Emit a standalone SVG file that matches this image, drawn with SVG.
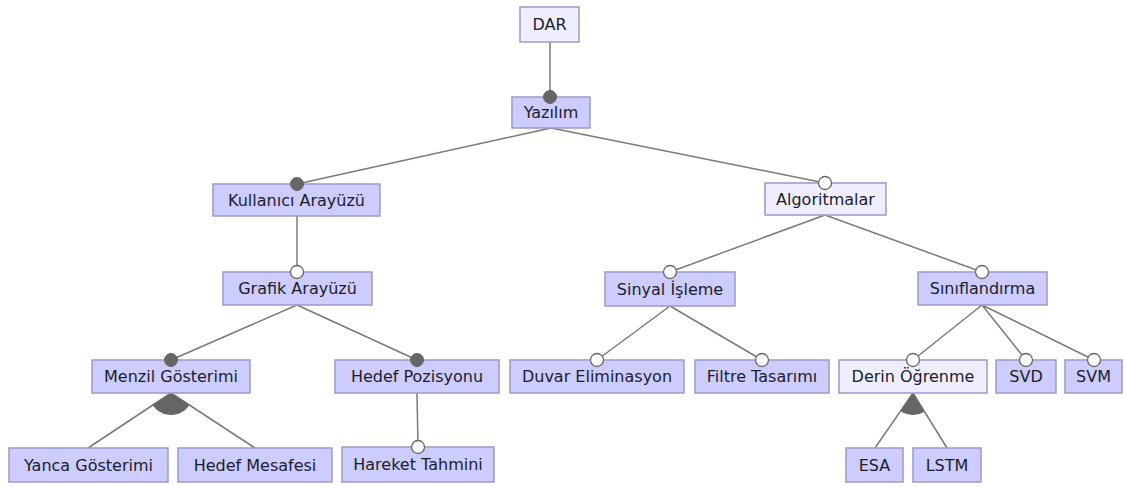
<svg xmlns="http://www.w3.org/2000/svg" width="1124" height="487" viewBox="0 0 1124 487">
  <style>
    .box { fill: #ccccff; stroke: #9b9bc8; stroke-width: 1.5; }
    .abs { fill: #eeeeff; stroke: #9b9bc8; stroke-width: 1.5; }
    .lbl { font-family: "DejaVu Sans", Verdana, sans-serif; font-size: 16px; fill: #1c1c2c; text-anchor: middle; dominant-baseline: central; }
    .edge { stroke: #7a7a7a; stroke-width: 1.5; fill: none; }
    .mand { fill: #666666; stroke: #666666; stroke-width: 1; }
    .opt { fill: #ffffff; stroke: #666666; stroke-width: 1.3; }
    .grp { fill: #666666; stroke: none; }
  </style>
  <rect width="1124" height="487" fill="#ffffff"/>

  <!-- connectors -->
  <g id="connectors">
    <line class="edge" x1="550" y1="42" x2="550" y2="97"/>
    <line class="edge" x1="551" y1="128" x2="297" y2="184"/>
    <line class="edge" x1="551" y1="128" x2="825" y2="183"/>
    <line class="edge" x1="297" y1="216" x2="297" y2="272"/>
    <line class="edge" x1="297" y1="305" x2="171" y2="360"/>
    <line class="edge" x1="297" y1="305" x2="417" y2="360"/>
    <line class="edge" x1="171" y1="393" x2="88" y2="448"/>
    <line class="edge" x1="171" y1="393" x2="255" y2="448"/>
    <line class="edge" x1="417" y1="393" x2="418" y2="447"/>
    <line class="edge" x1="825" y1="215" x2="670" y2="272"/>
    <line class="edge" x1="825" y1="215" x2="982" y2="272"/>
    <line class="edge" x1="670" y1="306" x2="597" y2="360"/>
    <line class="edge" x1="670" y1="306" x2="762" y2="360"/>
    <line class="edge" x1="982" y1="305" x2="913" y2="360"/>
    <line class="edge" x1="982" y1="305" x2="1026" y2="360"/>
    <line class="edge" x1="982" y1="305" x2="1094" y2="360"/>
    <line class="edge" x1="913" y1="393" x2="875" y2="448"/>
    <line class="edge" x1="913" y1="393" x2="947" y2="448"/>
    <!-- or-groups -->
    <path class="grp" d="M171,393 L152.7,405.1 A22,22 0 0 0 189.4,405.1 Z"/>
    <path class="grp" d="M913,393 L900.5,411.1 A22,22 0 0 0 924.6,411.7 Z"/>
  </g>

  <!-- nodes -->
  <g id="n-dar"><rect class="abs" x="520" y="7" width="59" height="35"/><text class="lbl" x="549.5" y="24.5">DAR</text></g>
  <g id="n-yazilim"><rect class="box" x="512" y="97" width="78" height="31"/><text class="lbl" x="551" y="112.5">Yazılım</text></g>
  <g id="n-kullanici"><rect class="box" x="213" y="184" width="167" height="32"/><text class="lbl" x="296.5" y="200">Kullanıcı Arayüzü</text></g>
  <g id="n-algoritmalar"><rect class="abs" x="765" y="183" width="121" height="32"/><text class="lbl" x="825.5" y="199">Algoritmalar</text></g>
  <g id="n-grafik"><rect class="box" x="223" y="272" width="149" height="33"/><text class="lbl" x="297.5" y="288.5">Grafik Arayüzü</text></g>
  <g id="n-sinyal"><rect class="box" x="605" y="272" width="130" height="34"/><text class="lbl" x="670" y="289">Sinyal İşleme</text></g>
  <g id="n-siniflandirma"><rect class="box" x="918" y="272" width="129" height="33"/><text class="lbl" x="982.5" y="288.5">Sınıflandırma</text></g>
  <g id="n-menzil"><rect class="box" x="92" y="360" width="158" height="33"/><text class="lbl" x="171" y="376.5">Menzil Gösterimi</text></g>
  <g id="n-hedefpoz"><rect class="box" x="335" y="360" width="164" height="33"/><text class="lbl" x="417" y="376.5">Hedef Pozisyonu</text></g>
  <g id="n-duvar"><rect class="box" x="510" y="360" width="174" height="33"/><text class="lbl" x="597" y="376.5">Duvar Eliminasyon</text></g>
  <g id="n-filtre"><rect class="box" x="695" y="360" width="134" height="33"/><text class="lbl" x="762" y="376.5">Filtre Tasarımı</text></g>
  <g id="n-derin"><rect class="abs" x="839" y="360" width="148" height="33"/><text class="lbl" x="913" y="376.5">Derin Öğrenme</text></g>
  <g id="n-svd"><rect class="box" x="996" y="360" width="60" height="33"/><text class="lbl" x="1026" y="376.5">SVD</text></g>
  <g id="n-svm"><rect class="box" x="1065" y="360" width="57" height="33"/><text class="lbl" x="1093.5" y="376.5">SVM</text></g>
  <g id="n-yanca"><rect class="box" x="9" y="448" width="159" height="34"/><text class="lbl" x="88.5" y="465">Yanca Gösterimi</text></g>
  <g id="n-hedefmes"><rect class="box" x="178" y="448" width="154" height="34"/><text class="lbl" x="255" y="465">Hedef Mesafesi</text></g>
  <g id="n-hareket"><rect class="box" x="342" y="447" width="152" height="35"/><text class="lbl" x="418" y="464.5">Hareket Tahmini</text></g>
  <g id="n-esa"><rect class="box" x="846" y="448" width="57" height="34"/><text class="lbl" x="874.5" y="465">ESA</text></g>
  <g id="n-lstm"><rect class="box" x="913" y="448" width="68" height="34"/><text class="lbl" x="947" y="465">LSTM</text></g>

  <!-- connector end decorations (drawn over node borders) -->
  <g id="decorations">
    <circle class="mand" cx="550" cy="97" r="6.5"/>
    <circle class="mand" cx="297" cy="184" r="6.5"/>
    <circle class="opt" cx="825" cy="183" r="6.5"/>
    <circle class="opt" cx="297" cy="272" r="6.5"/>
    <circle class="mand" cx="171" cy="360" r="6.5"/>
    <circle class="mand" cx="417" cy="360" r="6.5"/>
    <circle class="opt" cx="418" cy="447" r="6.5"/>
    <circle class="opt" cx="670" cy="272" r="6.5"/>
    <circle class="opt" cx="982" cy="272" r="6.5"/>
    <circle class="opt" cx="597" cy="360" r="6.5"/>
    <circle class="opt" cx="762" cy="360" r="6.5"/>
    <circle class="opt" cx="913" cy="360" r="6.5"/>
    <circle class="opt" cx="1026" cy="360" r="6.5"/>
    <circle class="opt" cx="1094" cy="360" r="6.5"/>
  </g>
</svg>
